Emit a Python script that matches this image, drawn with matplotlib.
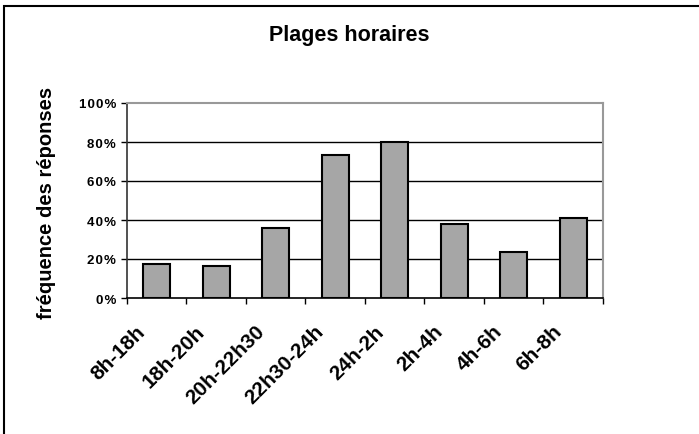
import numpy as np
import matplotlib.pyplot as plt
from matplotlib.patches import Rectangle

plt.rcParams['font.family'] = ['Liberation Sans', 'DejaVu Sans']

categories = ['8h-18h', '18h-20h', '20h-22h30', '22h30-24h', '24h-2h', '2h-4h', '4h-6h', '6h-8h']
values = [17.4, 16.4, 35.9, 73.5, 80.2, 37.9, 23.7, 41.2]
yticks = [0, 20, 40, 60, 80, 100]
ytick_labels = ['0\u200a%', '2\u200a0\u200a%', '4\u200a0\u200a%', '6\u200a0\u200a%', '8\u200a0\u200a%', '1\u200a0\u200a0\u200a%']

fig = plt.figure(figsize=(6.99, 4.35), dpi=100)
W, H = 699, 435
ax = fig.add_axes([127 / W, 1 - 299 / H, 476 / W, 195 / H])

# outer frame of the chart area
fig.patches.append(Rectangle((4 / W, -0.1), 1.0, 1 - 7 / H + 0.1, transform=fig.transFigure,
                             fill=False, edgecolor='black', linewidth=1.5))

x = np.arange(len(categories))
ax.bar(x, values, width=0.45, color='#a6a6a6', edgecolor='black', linewidth=1.5, zorder=3)

ax.set_xlim(-0.5, len(categories) - 0.5)
ax.set_ylim(0, 100)
for y in [20, 40, 60, 80]:
    ax.axhline(y, color='black', linewidth=1, zorder=1)

ax.set_yticks(yticks)
ax.set_yticklabels(ytick_labels, fontsize=9.5, fontweight='bold')
ax.tick_params(axis='y', direction='out', length=4, width=1, pad=4)

ax.set_xticks(np.arange(len(categories) + 1) - 0.5)
ax.set_xticklabels([])
ax.tick_params(axis='x', direction='out', length=4, width=1)
for i, c in enumerate(categories):
    ax.text(i - 0.35, -12, c, rotation=45, ha='right', va='top', fontsize=15, fontweight='bold',
            rotation_mode='anchor', transform=ax.transData, clip_on=False)

ax.spines['top'].set_color('#999999')
ax.spines['right'].set_color('#999999')
ax.spines['top'].set_linewidth(1.5)
ax.spines['right'].set_linewidth(1.5)
ax.spines['left'].set_color('#333333')
ax.spines['left'].set_linewidth(1.2)
ax.spines['bottom'].set_linewidth(1.2)

fig.text(46 / W, 1 - 203 / H, 'fréquence des réponses', rotation=90, ha='center', va='center',
         fontsize=14.5, fontweight='bold')
fig.text(349 / W, 1 - 35 / H, 'Plages horaires', ha='center', va='center', fontsize=15.5, fontweight='bold')

fig.savefig('out.png', dpi=100)
